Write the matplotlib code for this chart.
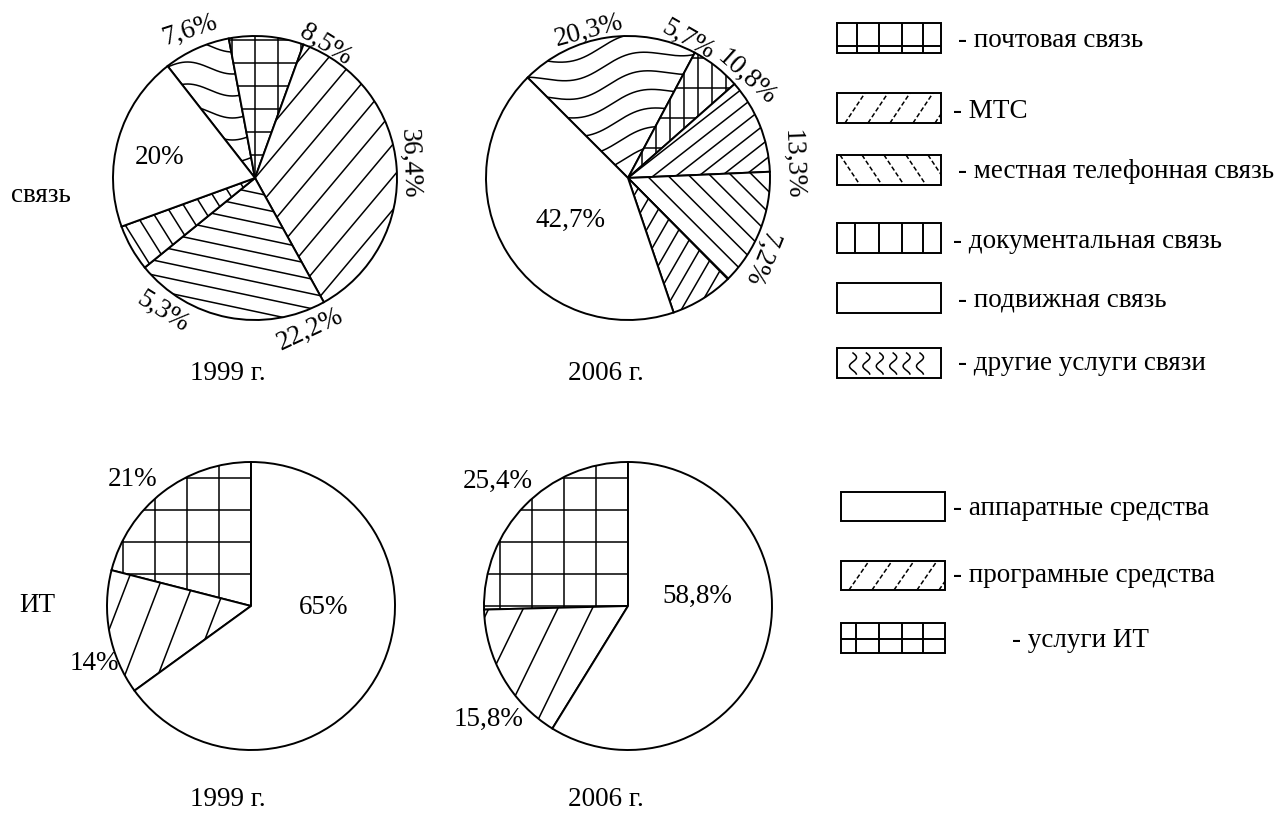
import numpy as np
import matplotlib
matplotlib.use("Agg")
import matplotlib.pyplot as plt
from matplotlib.patches import Rectangle

# структура рынка: связь и ИТ, 1999 и 2006 гг.
comm_labels = ["другие услуги связи", "почтовая связь", "МТС",
               "местная телефонная связь", "документальная связь", "подвижная связь"]
comm_1999 = [7.6, 8.5, 36.4, 22.2, 5.3, 20]
comm_2006 = [20.3, 5.7, 10.8, 13.3, 7.2, 42.7]

it_labels = ["услуги ИТ", "програмные средства", "аппаратные средства"]
it_1999 = [21, 14, 65]
it_2006 = [25.4, 15.8, 58.8]

years = ["1999 г.", "2006 г."]
legend_comm = ["почтовая связь", "МТС", "местная телефонная связь",
               "документальная связь", "подвижная связь", "другие услуги связи"]
legend_it = ["аппаратные средства", "програмные средства", "услуги ИТ"]

W, H = 1276, 816
LW = 1.4
HLW = 1.1

plt.rcParams["font.family"] = "Liberation Serif"
plt.rcParams["font.size"] = 19.5

fig = plt.figure(figsize=(W / 100, H / 100), dpi=100)


def pct(v):
    return f"{v:g}".replace(".", ",") + "%"


def add_pie(cx, cy, r, values, start, clockwise):
    pad = 1.15
    ax = fig.add_axes([(cx - pad * r) / W, (H - cy - pad * r) / H,
                       2 * pad * r / W, 2 * pad * r / H])
    wedges, _ = ax.pie(values, startangle=start, counterclock=not clockwise,
                       radius=1, wedgeprops=dict(facecolor="white",
                                                 edgecolor="black", linewidth=LW))
    ax.set_xlim(-pad, pad)
    ax.set_ylim(-pad, pad)
    ax.axis("off")
    return ax, wedges


def hatch_lines(ax, wedge, r, angle, spacing):
    d = spacing / r
    th = np.radians(angle)
    u = np.array([np.cos(th), np.sin(th)])
    n = np.array([-np.sin(th), np.cos(th)])
    m = int(1.2 / d) + 1
    for k in range(-m, m + 1):
        p = n * k * d
        a, b = p - 1.3 * u, p + 1.3 * u
        ln, = ax.plot([a[0], b[0]], [a[1], b[1]], color="black", lw=HLW)
        ln.set_clip_path(wedge)


def hatch_waves(ax, wedge, r, spacing, amp, length, angle=0):
    d = spacing / r
    th = np.radians(angle)
    t = np.linspace(-1.3, 1.3, 400)
    m = int(1.2 / d) + 1
    for k in range(-m, m + 1):
        y = k * d + amp / r * np.sin(2 * np.pi * t * r / length)
        xr = t * np.cos(th) - y * np.sin(th)
        yr = t * np.sin(th) + y * np.cos(th)
        ln, = ax.plot(xr, yr, color="black", lw=HLW)
        ln.set_clip_path(wedge)


def apply(ax, wedges, r, styles):
    for w, st in zip(wedges, styles):
        if st is None:
            continue
        kind = st[0]
        if kind == "wave":
            hatch_waves(ax, w, r, *st[1:])
        elif kind == "grid":
            hatch_lines(ax, w, r, 0, st[1])
            hatch_lines(ax, w, r, 90, st[2])
        else:
            hatch_lines(ax, w, r, st[1], st[2])


# верхний ряд - связь
ax1, w1 = add_pie(255, 178, 142, comm_1999, 128, True)
apply(ax1, w1, 142, [("wave", 22, 6, 90, 0), ("grid", 23, 23), ("lines", 50, 21),
                     ("lines", -12, 14.5), ("lines", 122, 15), None])
ax2, w2 = add_pie(628, 178, 142, comm_2006, 135, True)
apply(ax2, w2, 142, [("wave", 19, 7, 120, 12), ("grid", 30, 14), ("lines", 38, 14),
                     ("lines", -45, 15), ("lines", 60, 14), None])

# нижний ряд - ИТ
ax3, w3 = add_pie(251, 606, 144, it_1999, 90, False)
apply(ax3, w3, 144, [("grid", 32, 32), ("lines", 69, 31), None])
ax4, w4 = add_pie(628, 606, 144, it_2006, 90, False)
apply(ax4, w4, 144, [("grid", 32, 32), ("lines", 64, 31), None])

# подписи и легенда в пикселях
ov = fig.add_axes([0, 0, 1, 1])
ov.set_xlim(0, W)
ov.set_ylim(H, 0)
ov.axis("off")

pos_c1999 = [(190, 30, 18), (326, 45, -32), (409, 164, -88),
             (310, 330, 25), (163, 312, -32), (160, 158, 0)]
pos_c2006 = [(589, 31, 15), (688, 40, -30), (747, 78, -42),
             (792, 165, -88), (760, 258, -112), (570, 220, 0)]
pos_i1999 = [(133, 480, 0), (94, 664, 0), (324, 607, 0)]
pos_i2006 = [(498, 481, 0), (489, 719, 0), (697, 596, 0)]

for vals, pos in [(comm_1999, pos_c1999), (comm_2006, pos_c2006),
                  (it_1999, pos_i1999), (it_2006, pos_i2006)]:
    for v, (x, y, rot) in zip(vals, pos):
        ov.text(x, y, pct(v), ha="center", va="center", rotation=rot,
                rotation_mode="anchor")

ov.text(41, 195, "связь", ha="center", va="center")
ov.text(37, 605, "ИТ", ha="center", va="center")
for x, yr in zip([228, 606], years):
    ov.text(x, 374, yr, ha="center", va="center")
    ov.text(x, 800, yr, ha="center", va="center")


def box(x0, y0, w, h):
    rect = Rectangle((x0, y0), w, h, facecolor="white", edgecolor="black", lw=LW)
    ov.add_patch(rect)
    return rect


def seg(rect, xs, ys, **kw):
    ln, = ov.plot(xs, ys, color="black", lw=kw.pop("lw", HLW), **kw)
    ln.set_clip_path(rect)


def dashed_diag(rect, x0, y0, h, starts, forward):
    for xs in starts:
        if forward:
            seg(rect, [xs, xs + 20], [y0 + h, y0], ls=(0, (3, 1.6)))
        else:
            seg(rect, [xs, xs + 20], [y0, y0 + h], ls=(0, (3, 1.6)))


# легенда связи
bx, bw, bh = 837, 104, 30
rows = [23, 93, 155, 223, 283, 348]
text_x = [958, 953, 958, 953, 958, 958]
base = [47, 118, 178, 248, 307, 370]
for i, (y0, lab) in enumerate(zip(rows, legend_comm)):
    rect = box(bx, y0, bw, bh)
    if i == 0:
        for x in [857, 879, 902, 923]:
            seg(rect, [x, x], [y0, y0 + bh], lw=LW)
        seg(rect, [bx, bx + bw], [y0 + 23, y0 + 23], lw=LW)
    elif i == 1:
        dashed_diag(rect, bx, y0, bh, [845, 868, 890, 913, 935], True)
    elif i == 2:
        dashed_diag(rect, bx, y0, bh, [840, 862, 884, 906, 928], False)
    elif i == 3:
        for x in [855, 879, 902, 923]:
            seg(rect, [x, x], [y0, y0 + bh], lw=LW)
    elif i == 5:
        yy = np.linspace(y0 + 5, y0 + bh - 4, 60)
        for x0 in np.linspace(853, 920, 6):
            xx = x0 + 3.5 * np.sin(2 * np.pi * 1.2 * (yy - y0 - 5) / (bh - 9))
            seg(rect, xx, yy)
    ov.text(text_x[i], base[i], "- " + lab, ha="left", va="baseline")

# легенда ИТ
bx2 = 841
rows_it = [492, 561, 623]
text_x_it = [953, 953, 1012]
base_it = [515, 582, 647]
for i, (y0, lab) in enumerate(zip(rows_it, legend_it)):
    rect = box(bx2, y0, bw, 29 if i < 2 else 30)
    if i == 1:
        dashed_diag(rect, bx2, y0, 29, [849, 872, 894, 917, 939], True)
    elif i == 2:
        for x in [856, 879, 902, 923]:
            seg(rect, [x, x], [y0, y0 + 30], lw=LW)
        seg(rect, [bx2, bx2 + bw], [y0 + 16, y0 + 16], lw=LW)
    ov.text(text_x_it[i], base_it[i], "- " + lab, ha="left", va="baseline")

fig.savefig("out.png", dpi=100, facecolor="white")
